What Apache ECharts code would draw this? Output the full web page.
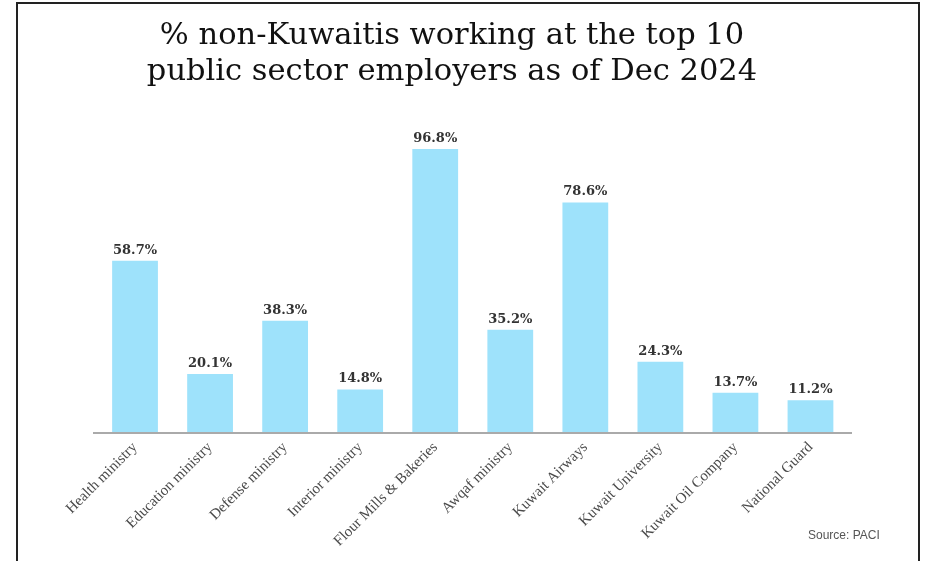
<!DOCTYPE html>
<html>
<head>
<meta charset="utf-8">
<script src="https://cdn.jsdelivr.net/npm/echarts@6/dist/echarts.min.js"></script>
<style>
html,body{margin:0;padding:0;background:#fff;}
#c{width:933px;height:561px;}
</style>
</head>
<body>
<div id="c"></div>
<script>
const categories = ["Health ministry","Education ministry","Defense ministry","Interior ministry","Flour Mills & Bakeries","Awqaf ministry","Kuwait Airways","Kuwait University","Kuwait Oil Company","National Guard"];
const values = [58.7, 20.1, 38.3, 14.8, 96.8, 35.2, 78.6, 24.3, 13.7, 11.2];
const titleLines = ["% non-Kuwaitis working at the top 10", "public sector employers as of Dec 2024"];
const sourceText = "Source: PACI";

const chart = echarts.init(document.getElementById('c'));
chart.setOption({
  backgroundColor: '#fff',
  animation: false,
  title: {
    text: titleLines.join('\n'),
    left: 447,
    top: 13,
    textAlign: 'center',
    textStyle: {fontFamily: 'DejaVu Serif', fontSize: 30.5, fontWeight: 'normal', color: '#111', lineHeight: 36}
  },
  grid: {left: 97.5, right: 85, top: 139.6, bottom: 128, containLabel: false},
  xAxis: {
    type: 'category',
    data: categories,
    axisLine: {lineStyle: {color: '#aaa', width: 2}},
    axisTick: {show: false},
    axisLabel: {rotate: 45, interval: 0, margin: 12, fontFamily: 'Liberation Serif', fontSize: 15, color: '#4a4a4a'}
  },
  yAxis: {type: 'value', min: 0, max: 100, show: false, splitLine: {show: false}},
  series: [{
    type: 'bar',
    data: values,
    barWidth: '61%',
    itemStyle: {color: '#9ee2fb'},
    label: {show: true, position: 'top', distance: 4, formatter: p => p.value.toFixed(1) + '%', fontFamily: 'DejaVu Serif', fontWeight: 'bold', fontSize: 13, color: '#333'}
  }],
  graphic: [
    {type: 'rect', shape: {x: 17, y: 3, width: 902, height: 600}, style: {fill: 'none', stroke: '#222', lineWidth: 2}},
    {type: 'line', shape: {x1: 93, y1: 433, x2: 852, y2: 433}, style: {stroke: '#aaa', lineWidth: 2}, z: 10},
    {type: 'text', left: 808, top: 530, style: {text: sourceText, fontFamily: 'Liberation Sans', fontSize: 12, fill: '#555'}}
  ]
});
</script>
</body>
</html>
